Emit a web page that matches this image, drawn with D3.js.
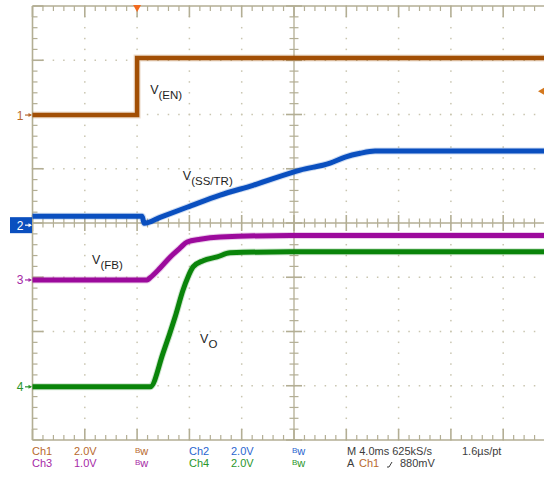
<!DOCTYPE html>
<html>
<head>
<meta charset="utf-8">
<script src="https://cdn.jsdelivr.net/npm/d3@7"></script>
<style>
  body { margin: 0; background: #fff; }
  svg { display: block; font-family: "Liberation Sans", Arial, sans-serif; }
</style>
</head>
<body>
<div id="scope"></div>
<script>
// time in ms (trigger at 0), values in volts
const ch1Time = [-8, 0, 0, 32];
const ch1Volts = [0, 0, 2.1, 2.1];

const ch2Time = [-8, 0.38, 0.54, 1.76, 3.82, 6.35, 8.87, 12.47, 14.76, 15.91, 17.06, 18.2, 32];
const ch2Volts = [0.33, 0.33, 0.07, 0.29, 0.66, 1.11, 1.47, 2.03, 2.29, 2.51, 2.65, 2.73, 2.73];

const ch3Time = [-8, 0.76, 0.99, 1.76, 2.52, 3.29, 3.83, 4.82, 6.35, 11.7, 32];
const ch3Volts = [0, 0, 0.04, 0.22, 0.42, 0.59, 0.70, 0.75, 0.79, 0.82, 0.82];

const ch4Time = [-8, 1.0, 1.99, 2.91, 3.52, 3.9, 4.28, 5.05, 6.12, 7.11, 11.7, 32];
const ch4Volts = [0, 0, 1.25, 2.58, 3.58, 4.06, 4.42, 4.65, 4.79, 4.94, 4.98, 4.98];

// channel settings: volts per division, ground marker offset in divisions
const chNames = ["1", "2", "3", "4"];
const chVoltsPerDiv = [2, 2, 1, 2];
const chGroundDiv = [1.99, -0.04, -1.05, -3.02];
const chColors = ["#a24f05", "#0a4fbf", "#9c0a9c", "#0a840a"];
const chTextColors = ["#b8692c", "#2a66cf", "#a62aa6", "#2a962a"];

const traceLabels = [
    {main: "V", sub: "(EN)", t: 1.0, v: 0.77, ch: 0},
    {main: "V", sub: "(SS/TR)", t: 3.5, v: 1.65, ch: 1},
    {main: "V", sub: "(FB)", t: -3.44, v: 0.3, ch: 2},
    {main: "V", sub: "O", t: 4.82, v: 1.62, ch: 3}
];

const footerRows = [
    [["Ch1", 0], ["2.0V", 0], ["Bw", 0], ["Ch2", 1], ["2.0V", 1], ["Bw", 1]],
    [["Ch3", 2], ["1.0V", 2], ["Bw", 2], ["Ch4", 3], ["2.0V", 3], ["Bw", 3]]
];

const width = 544, height = 479;
const svg = d3.select("#scope").append("svg")
    .attr("width", width)
    .attr("height", height);

// 10 x 8 division graticule, right edge runs off the picture
const x = d3.scaleLinear().domain([-8, 32]).range([32.5, 555.5]);
const y = d3.scaleLinear().domain([-4, 4]).range([440, 6]);
const gridColor = "#b3ae94";
const dotColor = "#c9c5b0";

const grid = svg.append("g");

// dotted division lines
const xDivs = d3.range(-4, 32, 4).filter(d => d !== 12 && d !== -8);
const yDivs = d3.range(-3, 4, 1).filter(d => d !== 0);
const xMinor = d3.range(-8, 32.01, 0.8);
const yMinor = d3.range(-4, 4.01, 0.2);

xDivs.forEach(t => {
    grid.selectAll(null).data(yMinor).enter().append("rect")
        .attr("x", x(t) - 0.75).attr("y", d => y(d) - 0.75)
        .attr("width", 1.5).attr("height", 1.5).attr("fill", dotColor);
});
yDivs.forEach(v => {
    grid.selectAll(null).data(xMinor).enter().append("rect")
        .attr("x", d => x(d) - 0.75).attr("y", y(v) - 0.75)
        .attr("width", 1.5).attr("height", 1.5).attr("fill", dotColor);
});

// frame
grid.append("line").attr("x1", x(-8)).attr("x2", width).attr("y1", y(4)).attr("y2", y(4))
    .attr("stroke", gridColor).attr("stroke-width", 1.6);
grid.append("line").attr("x1", x(-8)).attr("x2", width).attr("y1", y(-4)).attr("y2", y(-4))
    .attr("stroke", gridColor).attr("stroke-width", 1.6);
grid.append("line").attr("x1", x(-8)).attr("x2", x(-8)).attr("y1", y(4)).attr("y2", y(-4))
    .attr("stroke", gridColor).attr("stroke-width", 1.6);

// centre cross
grid.append("line").attr("x1", x(-8)).attr("x2", width).attr("y1", y(0)).attr("y2", y(0))
    .attr("stroke", gridColor).attr("stroke-width", 1.3);
grid.append("line").attr("x1", x(12)).attr("x2", x(12)).attr("y1", y(4)).attr("y2", y(-4))
    .attr("stroke", gridColor).attr("stroke-width", 1.3);

function isMajor(v, step) { return Math.abs(v / step - Math.round(v / step)) < 1e-6; }

// ticks along horizontal lines
xMinor.forEach(t => {
    const major = isMajor(t, 4);
    const len = major ? 11 : 5;
    grid.append("line").attr("x1", x(t)).attr("x2", x(t))
        .attr("y1", y(4)).attr("y2", y(4) + len)
        .attr("stroke", gridColor).attr("stroke-width", major ? 1.6 : 1.2);
    grid.append("line").attr("x1", x(t)).attr("x2", x(t))
        .attr("y1", y(-4)).attr("y2", y(-4) - len)
        .attr("stroke", gridColor).attr("stroke-width", major ? 1.6 : 1.2);
    const c = major ? 8 : 4.5;
    grid.append("line").attr("x1", x(t)).attr("x2", x(t))
        .attr("y1", y(0) - c).attr("y2", y(0) + c)
        .attr("stroke", gridColor).attr("stroke-width", major ? 1.6 : 1.2);
});

// ticks along vertical lines
yMinor.forEach(v => {
    const major = isMajor(v, 1);
    const len = major ? 11 : 5;
    grid.append("line").attr("x1", x(-8)).attr("x2", x(-8) + len)
        .attr("y1", y(v)).attr("y2", y(v))
        .attr("stroke", gridColor).attr("stroke-width", major ? 1.6 : 1.2);
    const c = major ? 8 : 4.5;
    grid.append("line").attr("x1", x(12) - c).attr("x2", x(12) + c)
        .attr("y1", y(v)).attr("y2", y(v))
        .attr("stroke", gridColor).attr("stroke-width", major ? 1.6 : 1.2);
});

// traces
const traces = [
    [ch1Time, ch1Volts],
    [ch2Time, ch2Volts],
    [ch3Time, ch3Volts],
    [ch4Time, ch4Volts]
];

function yOf(ch, v) { return y(chGroundDiv[ch] + v / chVoltsPerDiv[ch]); }

const stepLine = d3.line().x(d => x(d[0])).y(d => d[1]);
const smoothLine = d3.line().x(d => x(d[0])).y(d => d[1]).curve(d3.curveMonotoneX);

traces.forEach((tr, ch) => {
    const pts = tr[0].map((t, i) => [t, yOf(ch, tr[1][i])]);
    const line = ch === 0 ? stepLine : smoothLine;
    // noisy fringe
    svg.append("path").datum(pts)
        .attr("d", line)
        .attr("fill", "none")
        .attr("stroke", chColors[ch])
        .attr("stroke-opacity", 0.2)
        .attr("stroke-width", 7);
    svg.append("path").datum(pts)
        .attr("d", line)
        .attr("fill", "none")
        .attr("stroke", chColors[ch])
        .attr("stroke-width", ch === 0 ? 4.5 : 5);
});
// thin edge of the enable step
svg.append("line")
    .attr("x1", x(0)).attr("x2", x(0))
    .attr("y1", yOf(0, 0)).attr("y2", yOf(0, 2.1))
    .attr("stroke", chColors[0]).attr("stroke-width", 1.5);

// ground markers
chNames.forEach((name, ch) => {
    const gy = y(chGroundDiv[ch]);
    const g = svg.append("g");
    let col = chTextColors[ch];
    if (ch === 1) {
        g.append("rect").attr("x", 10).attr("y", gy - 8).attr("width", 22).attr("height", 16)
            .attr("fill", "#0a4fbf");
        col = "#ffffff";
    }
    g.append("text").attr("x", 20).attr("y", gy + 4.5)
        .attr("text-anchor", "middle")
        .attr("font-size", 12)
        .attr("fill", col)
        .text(name);
    g.append("line").attr("x1", 25).attr("x2", 31).attr("y1", gy).attr("y2", gy)
        .attr("stroke", col).attr("stroke-width", 1.2);
    g.append("path").attr("d", `M32,${gy} L28.5,${gy - 2} L28.5,${gy + 2} Z`)
        .attr("fill", col);
});

// trigger position (top) and trigger level (right)
svg.append("path")
    .attr("d", `M${x(0) - 4},5 L${x(0) + 4},5 L${x(0)},12 Z`)
    .attr("fill", "#f26a1f");
const trigY = yOf(0, 0.88);
svg.append("path")
    .attr("d", `M538,${trigY} L544,${trigY - 3.5} L544,${trigY + 3.5} Z`)
    .attr("fill", "#d4781e");

// trace labels
traceLabels.forEach(d => {
    const t = svg.append("text")
        .attr("x", x(d.t))
        .attr("y", yOf(d.ch, d.v))
        .attr("font-size", 12.5)
        .attr("fill", "#1e1e1e");
    t.append("tspan").text(d.main);
    t.append("tspan").attr("dy", 5).attr("font-size", 11.5).text(d.sub);
});

// footer readout
const colX = [32, 74, 135, 189, 231, 292];
const rowY = [455, 467];
footerRows.forEach((row, r) => {
    row.forEach((cell, c) => {
        const t = svg.append("text")
            .attr("x", colX[c]).attr("y", rowY[r])
            .attr("font-size", 11)
            .attr("fill", chTextColors[cell[1]]);
        if (cell[0] === "Bw") {
            t.append("tspan").attr("font-size", 8).attr("dy", -2.5).text("B");
            t.append("tspan").attr("dy", 2.5).text("w");
        } else {
            t.text(cell[0]);
        }
    });
});
svg.append("text").attr("x", 347).attr("y", rowY[0]).attr("font-size", 11)
    .attr("fill", "#3c3c3c").text("M 4.0ms 625kS/s");
svg.append("text").attr("x", 462).attr("y", rowY[0]).attr("font-size", 11)
    .attr("fill", "#3c3c3c").text("1.6µs/pt");
svg.append("text").attr("x", 347).attr("y", rowY[1]).attr("font-size", 11)
    .attr("fill", "#3c3c3c").text("A");
svg.append("text").attr("x", 359).attr("y", rowY[1]).attr("font-size", 11)
    .attr("fill", chTextColors[0]).text("Ch1");
svg.append("path").attr("d", `M387,${rowY[1]} L389,${rowY[1]} L392,${rowY[1] - 5}`)
    .attr("fill", "none").attr("stroke", "#3c3c3c").attr("stroke-width", 1);
svg.append("text").attr("x", 400).attr("y", rowY[1]).attr("font-size", 11)
    .attr("fill", "#3c3c3c").text("880mV");
</script>
</body>
</html>
